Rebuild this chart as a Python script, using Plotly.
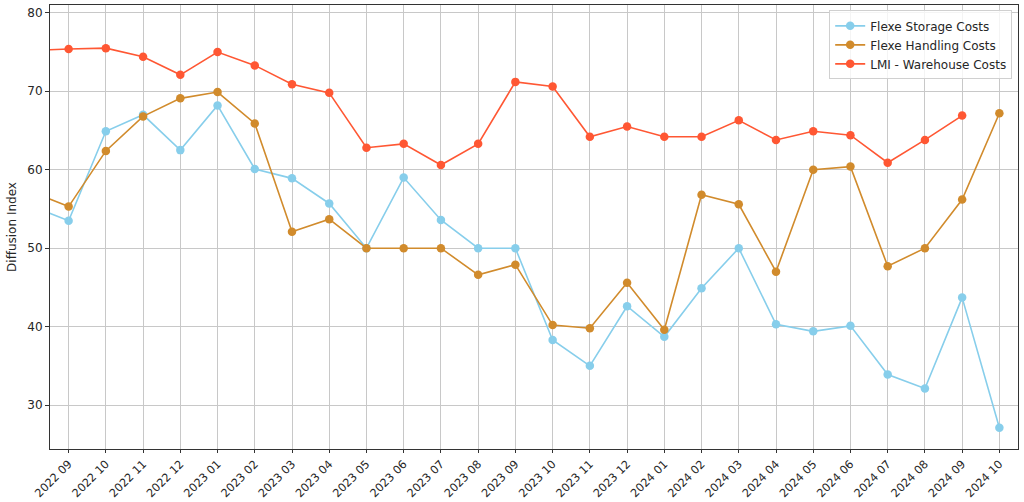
import plotly.graph_objects as go

months = ["2022 08", "2022 09", "2022 10", "2022 11", "2022 12", "2023 01", "2023 02", "2023 03",
          "2023 04", "2023 05", "2023 06", "2023 07", "2023 08", "2023 09", "2023 10", "2023 11",
          "2023 12", "2024 01", "2024 02", "2024 03", "2024 04", "2024 05", "2024 06", "2024 07",
          "2024 08", "2024 09", "2024 10"]

storage = [55.4, 53.5, 64.9, 67.0, 62.5, 68.2, 60.1, 58.9, 55.7, 50.0, 59.0, 53.6, 50.0, 50.0,
           38.3, 35.0, 42.6, 38.7, 44.9, 50.0, 40.3, 39.4, 40.1, 33.9, 32.1, 43.7, 27.1]
handling = [57.2, 55.3, 62.4, 66.8, 69.1, 69.9, 65.9, 52.1, 53.7, 50.0, 50.0, 50.0, 46.6, 47.9,
            40.2, 39.8, 45.6, 39.6, 56.8, 55.6, 47.0, 60.0, 60.4, 47.7, 50.0, 56.2, 67.2]
lmi = [75.2, 75.4, 75.5, 74.4, 72.1, 75.0, 73.3, 70.9, 69.8, 62.8, 63.3, 60.6, 63.3, 71.2,
       70.6, 64.2, 65.5, 64.2, 64.2, 66.3, 63.8, 64.9, 64.4, 60.9, 63.8, 66.9, None]

series = [
    ("Flexe Storage Costs", storage, "#87CEEB"),
    ("Flexe Handling Costs", handling, "#D18B2C"),
    ("LMI - Warehouse Costs", lmi, "#FF5733"),
]

fig = go.Figure()
for name, vals, color in series:
    fig.add_trace(go.Scatter(
        x=months, y=vals, name=name, mode="lines+markers",
        line=dict(color=color, width=1.6),
        marker=dict(color=color, size=8.5),
        connectgaps=False,
    ))

font = dict(family="DejaVu Sans", size=12, color="#262626")
xfont = dict(family="DejaVu Sans", size=11.3, color="#262626")
fig.update_layout(
    width=1024, height=502,
    margin=dict(l=50, r=6, t=5, b=53),
    paper_bgcolor="white", plot_bgcolor="white",
    font=font,
    showlegend=True,
    legend=dict(
        x=0.994, y=0.988, xanchor="right", yanchor="top",
        bgcolor="rgba(255,255,255,0.8)", bordercolor="#d0d0d0", borderwidth=1,
        font=dict(family="DejaVu Sans", size=12, color="#262626"),
        tracegroupgap=0, itemsizing="trace",
    ),
)
fig.update_xaxes(
    type="category", categoryorder="array", categoryarray=months,
    range=[0.5, 26.5], tickangle=-45, automargin=False,
    showgrid=True, gridcolor="#c8c8c8", gridwidth=1,
    showline=True, linecolor="#333333", linewidth=1, mirror=True,
    ticks="outside", ticklen=3, tickcolor="#333333",
    tickfont=xfont, zeroline=False,
)
fig.update_yaxes(
    range=[24.4, 81.0], tickvals=[30, 40, 50, 60, 70, 80], automargin=False,
    showgrid=True, gridcolor="#c8c8c8", gridwidth=1,
    showline=True, linecolor="#333333", linewidth=1, mirror=True,
    ticks="outside", ticklen=4, tickcolor="#333333",
    tickfont=font, zeroline=False,
    title=dict(text="Diffusion Index", font=font, standoff=8),
)

fig.write_html("out.html")
